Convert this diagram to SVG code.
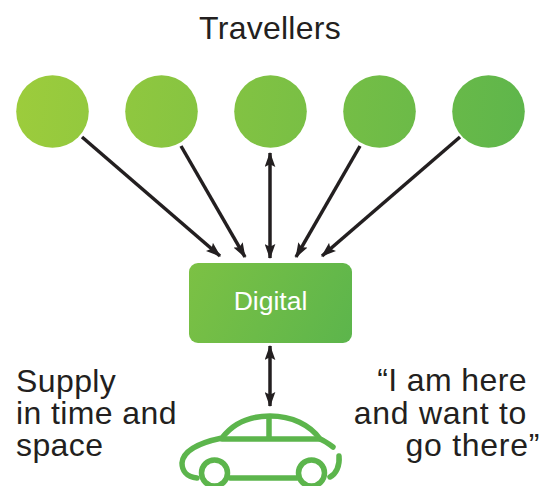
<svg xmlns="http://www.w3.org/2000/svg" width="548" height="486" viewBox="0 0 548 486">
<style>
text{font-family:"Liberation Sans",Arial,sans-serif;font-size:32px;fill:#231f20}
.s{letter-spacing:.4px}
.q{letter-spacing:.7px}
.l{stroke:#231f20;stroke-width:3.5;fill:none;marker-end:url(#a)}
.d{marker-start:url(#b)}
.c{fill:none;stroke:#5cb54c;stroke-width:5.5;stroke-linecap:round;stroke-linejoin:round}
</style>
<defs>
<marker id="a" viewBox="0 0 14 10" refX="13" refY="5" markerUnits="userSpaceOnUse" markerWidth="15" markerHeight="11" orient="auto"><path d="M0 0L14 5L0 10L2.500 5Z" fill="#231f20"/></marker>
<marker id="b" viewBox="0 0 14 10" refX="1" refY="5" markerUnits="userSpaceOnUse" markerWidth="15" markerHeight="11" orient="auto"><path d="M14 0L0 5L14 10L11.500 5Z" fill="#231f20"/></marker>
<linearGradient id="g1" gradientUnits="userSpaceOnUse" x1="20" y1="85" x2="520" y2="135"><stop offset="0" stop-color="#9ccc3c"/><stop offset="1" stop-color="#5fb64b"/></linearGradient>
<linearGradient id="g2" gradientUnits="userSpaceOnUse" x1="189" y1="263" x2="352" y2="343"><stop offset="0" stop-color="#7cc144"/><stop offset="1" stop-color="#5cb54c"/></linearGradient>
</defs>
<g id="connectors">
<path class="l" d="M82 137L220 256"/>
<path class="l" d="M181 146L245 257"/>
<path class="l d" d="M270 153L270 258"/>
<path class="l" d="M360 146L296 257"/>
<path class="l" d="M460 137L322 256"/>
<path class="l d" d="M270 346L270 406"/>
</g>
<g id="title"><text x="270" y="39" text-anchor="middle" style="letter-spacing:.25px">Travellers</text></g>
<g id="t1"><circle cx="52.500" cy="111.500" r="36.300" fill="url(#g1)"/></g>
<g id="t2"><circle cx="161.500" cy="111.500" r="36.300" fill="url(#g1)"/></g>
<g id="t3"><circle cx="270.500" cy="111.500" r="36.300" fill="url(#g1)"/></g>
<g id="t4"><circle cx="379.500" cy="111.500" r="36.300" fill="url(#g1)"/></g>
<g id="t5"><circle cx="488.500" cy="111.500" r="36.300" fill="url(#g1)"/></g>
<g id="digital"><rect x="189" y="263" width="163" height="80" rx="9" fill="url(#g2)"/><text x="270.500" y="310" text-anchor="middle" style="font-size:26.500px;fill:#fff">Digital</text></g>
<g id="supply"><text class="s" x="16" y="392">Supply</text><text class="s" x="16" y="424">in time and</text><text class="s" x="16" y="456">space</text></g>
<g id="quote"><text class="s" x="527" y="391" text-anchor="end">“I am here</text><text class="q" x="527" y="424" text-anchor="end">and want to</text><text class="q" x="540" y="456" text-anchor="end">go there”</text></g>
<g id="car">
<path class="c" d="M197 478C186 477 182 470 182 463C183 451 198 443 222 438C234 422 252 416 270 416C292 416 310 425 320 439C325 441 329 444 333 447"/>
<path class="c" d="M222 439H320M269 417V438"/>
<path class="c" d="M230 478H297"/>
<path class="c" d="M339 456C340 466 336 474 330 477"/>
<circle class="c" cx="214.500" cy="473" r="13"/>
<circle class="c" cx="311.500" cy="473" r="13"/>
</g>
</svg>
